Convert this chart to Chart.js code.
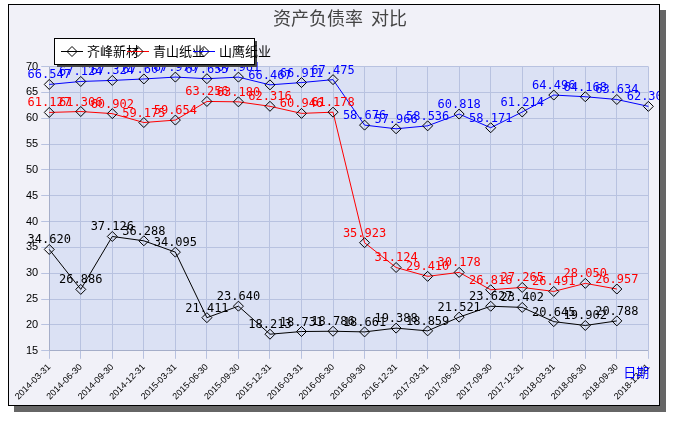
<!DOCTYPE html><html><head><meta charset="utf-8">
<script src="https://cdn.jsdelivr.net/npm/chart.js@4"></script>
<style>body{margin:0;background:#fff}#w{position:absolute;left:8px;top:4px;width:650px;height:400px;background:#f1f1f8;border:1px solid #000;box-shadow:6px 6px 0 #666}</style>
</head><body><div id="w"><canvas id="c" width="650" height="400"></canvas></div>
<script>
const labels=['2014-03-31','2014-06-30','2014-09-30','2014-12-31','2015-03-31','2015-06-30','2015-09-30','2015-12-31','2016-03-31','2016-06-30','2016-09-30','2016-12-31','2017-03-31','2017-06-30','2017-09-30','2017-12-31','2018-03-31','2018-06-30','2018-09-30','2018-12-31'];
const qifeng=[34.620,26.886,37.126,36.288,34.095,21.411,23.640,18.213,18.731,18.786,18.661,19.388,18.859,21.521,23.627,23.402,20.645,19.902,20.788,null];
const qingshan=[61.127,61.306,60.902,59.175,59.654,63.256,63.180,62.316,60.946,61.178,35.923,31.124,29.410,30.178,26.816,27.265,26.491,28.050,26.957,null];
const shanying=[66.547,67.124,67.324,67.607,67.970,67.655,67.961,66.467,66.911,67.475,58.676,57.966,58.536,60.818,58.171,61.214,64.496,64.168,63.634,62.303];
function diamond(x,cx,cy,r){x.beginPath();x.moveTo(cx,cy-r);x.lineTo(cx+r,cy);x.lineTo(cx,cy+r);x.lineTo(cx-r,cy);x.closePath();x.stroke();}
const bgPlugin={id:'bg',beforeDraw(ch){const a=ch.chartArea,x=ch.ctx;x.save();x.fillStyle='#dbe1f4';x.fillRect(a.left,a.top,a.right-a.left,a.bottom-a.top);x.restore();},
afterDraw(ch){const x=ch.ctx;x.save();
// legend
x.fillStyle='#444';x.fillRect(48,36,200,26);x.fillStyle='#fff';x.fillRect(45,33,200,26);x.strokeStyle='#000';x.lineWidth=1;x.strokeRect(45.5,33.5,200,26);
x.font='13px "Noto Sans CJK SC"';x.textBaseline='middle';x.textAlign='left';
let lx=52;ch.data.datasets.forEach(d=>{x.strokeStyle=d.borderColor;x.beginPath();x.moveTo(lx,46.5);x.lineTo(lx+22,46.5);x.stroke();x.strokeStyle='#000';diamond(x,lx+11,46.5,5);x.fillStyle='#000';x.fillText(d.label,lx+26,46);lx+=66;});
x.restore();},
afterDatasetsDraw(ch){const x=ch.ctx;x.save();x.font='12px "DejaVu Sans Mono"';x.textAlign='center';
ch.data.datasets.forEach((d,i)=>{const m=ch.getDatasetMeta(i);m.data.forEach((p,j)=>{const v=d.data[j];if(v==null)return;x.fillStyle=d.borderColor;x.fillText(v.toFixed(3),p.x,p.y-6);});});
x.fillStyle='#00f';x.font='13px "Noto Sans CJK SC"';x.fillText('日期',ch.chartArea.right-12,ch.chartArea.bottom+26);
x.restore();}};
const ds=(l,d,c)=>({label:l,data:d,borderColor:c,backgroundColor:'rgba(0,0,0,0)',borderWidth:1,pointStyle:'rectRot',pointRadius:5,pointBorderColor:'#000',pointBorderWidth:1,pointBackgroundColor:'rgba(0,0,0,0)',tension:0,spanGaps:false});
new Chart(document.getElementById('c'),{type:'line',data:{labels,datasets:[ds('齐峰新材',qifeng,'#000'),ds('青山纸业',qingshan,'#f00'),ds('山鹰纸业',shanying,'#00f')]},
options:{responsive:false,animation:false,layout:{padding:{left:14,right:2,top:0,bottom:0}},
plugins:{title:{display:true,text:'资产负债率  对比',color:'#444',font:{size:18,family:'Noto Sans CJK SC',weight:'normal'},padding:{top:2,bottom:38}},
legend:{display:false},tooltip:{enabled:false}},
scales:{x:{offset:false,grid:{color:'#b8c2e0'},ticks:{color:'#000',minRotation:45,maxRotation:45,autoSkip:false,font:{size:9}}},
y:{min:15,max:70,grid:{color:'#b8c2e0'},ticks:{stepSize:5,color:'#000',font:{size:11}}}}},plugins:[bgPlugin]});
</script></body></html>
